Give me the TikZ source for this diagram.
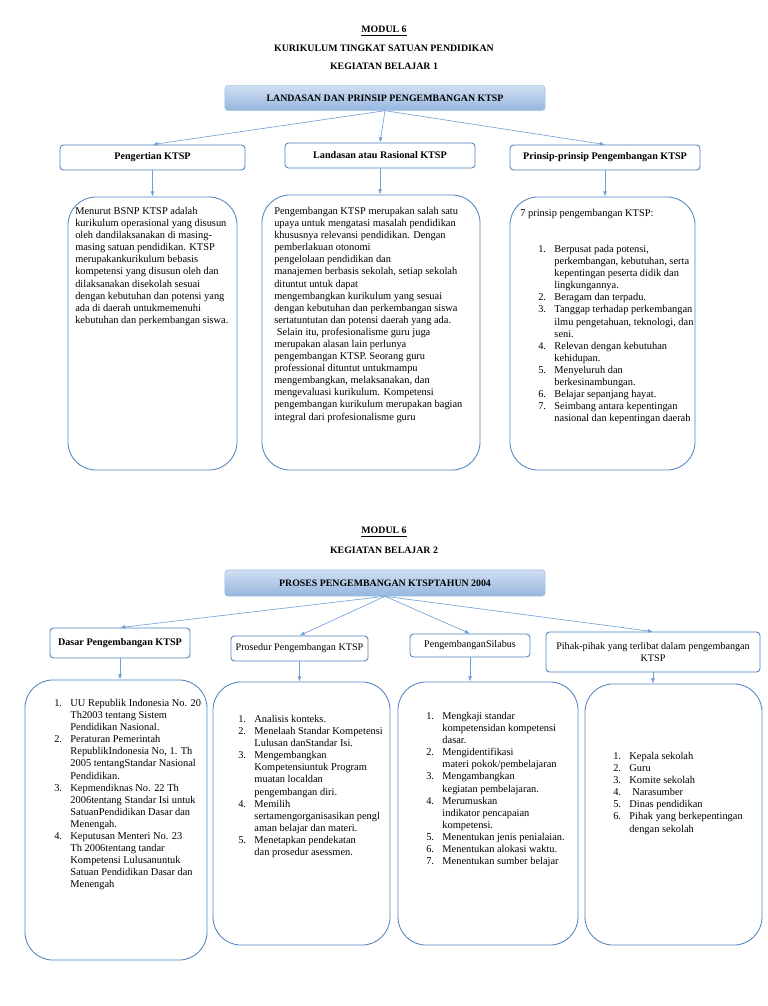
\documentclass[tikz,border=0pt]{standalone}
\usepackage{fontspec}
\setmainfont{Liberation Serif}
\usetikzlibrary{positioning,arrows.meta}
\definecolor{boxline}{RGB}{79,129,189}
\definecolor{linkblue}{RGB}{112,160,214}
\definecolor{hdrtop}{RGB}{208,223,242}
\definecolor{hdrbot}{RGB}{150,182,222}
\definecolor{hdrline}{RGB}{160,190,226}
\newcommand{\itemno}[1]{\makebox[11.5pt][l]{#1}}
\newcommand{\itemind}{\hspace*{11.5pt}}
\tikzset{
  hdrbox/.style={draw=hdrline,top color=hdrtop,bottom color=hdrbot,rounded corners=2pt,font=\fontsize{7}{8.6}\selectfont\bfseries,minimum width=8cm,minimum height=0.62cm},
  subbox/.style={draw=boxline,fill=white,rounded corners=2.5pt,align=center,font=\fontsize{7.2}{8.6}\selectfont,line width=0.6pt},
  subbold/.style={subbox,font=\fontsize{7.2}{8.6}\selectfont\bfseries},
  txtbox/.style={draw=boxline,rounded corners=0.7cm,line width=0.6pt},
  bodytxt/.style={anchor=north west,inner sep=0pt,align=left,font=\fontsize{7.4}{8.6}\selectfont},
  titletxt/.style={font=\fontsize{7}{8.4}\selectfont\bfseries,inner sep=1pt},
  link/.style={-{Latex[length=1.3mm,width=1mm]},draw=linkblue,line width=0.45pt},
}
\begin{document}
\begin{tikzpicture}[x=0.025cm,y=-0.025cm]
  \useasboundingbox (0,0) rectangle (768,1006);
  % kegiatan belajar 1
  \node[titletxt] (modA) at (384,31) {\underline{MODUL 6}};
  \node[titletxt] (kurA) at (384,48) {KURIKULUM TINGKAT SATUAN PENDIDIKAN};
  \node[titletxt] (kbA)  at (384,66) {KEGIATAN BELAJAR 1};
  \node[hdrbox] (hdrA) at (385,98) {LANDASAN DAN PRINSIP PENGEMBANGAN KTSP};
  \node[subbold,minimum width=4.625cm,minimum height=0.625cm] (peng) at (152.5,157.5) {Pengertian KTSP};
  \node[subbold,minimum width=4.75cm,minimum height=0.625cm]  (land) at (380,155.5)   {Landasan atau Rasional KTSP};
  \node[subbold,minimum width=4.75cm,minimum height=0.625cm]  (prin) at (605,157.5)   {Prinsip-prinsip Pengembangan KTSP};
  \draw[link] (hdrA.south) -- (peng.north);
  \draw[link] (hdrA.south) -- (land.north);
  \draw[link] (hdrA.south) -- (prin.north);
  \node[txtbox,minimum width=4.225cm,minimum height=6.825cm] (pengbox) at (152.5,333.5) {};
  \node[txtbox,minimum width=5.45cm,minimum height=6.875cm]  (landbox) at (371,332.5) {};
  \node[txtbox,minimum width=4.625cm,minimum height=6.825cm] (prinbox) at (602.5,333.5) {};
  \draw[link] (peng.south) -- (pengbox.north);
  \draw[link] (land.south) -- (land.south |- landbox.north);
  \draw[link] (prin.south) -- (prin.south |- prinbox.north);
  \node[bodytxt] (pengtxt) at (75,207) {Menurut BSNP KTSP adalah\\
    kurikulum operasional yang disusun\\
    oleh dandilaksanakan di masing-\\
    masing satuan pendidikan. KTSP\\
    merupakankurikulum bebasis\\
    kompetensi yang disusun oleh dan\\
    dilaksanakan disekolah sesuai\\
    dengan kebutuhan dan potensi yang\\
    ada di daerah untukmemenuhi\\
    kebutuhan dan perkembangan siswa.};
  \node[bodytxt] (landtxt) at (274,207) {Pengembangan KTSP merupakan salah satu\\
    upaya untuk mengatasi masalah pendidikan\\
    khususnya relevansi pendidikan. Dengan\\
    pemberlakuan otonomi\\
    pengelolaan pendidikan dan\\
    manajemen berbasis sekolah, setiap sekolah\\
    dituntut untuk dapat\\
    mengembangkan kurikulum yang sesuai\\
    dengan kebutuhan dan perkembangan siswa\\
    sertatuntutan dan potensi daerah yang ada.\\
    \ Selain itu, profesionalisme guru juga\\
    merupakan alasan lain perlunya\\
    pengembangan KTSP. Seorang guru\\
    professional dituntut untukmampu\\
    mengembangkan, melaksanakan, dan\\
    mengevaluasi kurikulum. Kompetensi\\
    pengembangan kurikulum merupakan bagian\\
    integral dari profesionalisme guru};
  \node[bodytxt] (printxt) at (520,209) {7 prinsip pengembangan KTSP:};
  \node[bodytxt] (prinlist) at (538,245) {\itemno{1.}Berpusat pada potensi,\\
    \itemind perkembangan, kebutuhan, serta\\
    \itemind kepentingan peserta didik dan\\
    \itemind lingkungannya.\\
    \itemno{2.}Beragam dan terpadu.\\
    \itemno{3.}Tanggap terhadap perkembangan\\
    \itemind ilmu pengetahuan, teknologi, dan\\
    \itemind seni.\\
    \itemno{4.}Relevan dengan kebutuhan\\
    \itemind kehidupan.\\
    \itemno{5.}Menyeluruh dan\\
    \itemind berkesinambungan.\\
    \itemno{6.}Belajar sepanjang hayat.\\
    \itemno{7.}Seimbang antara kepentingan\\
    \itemind nasional dan kepentingan daerah};
  % kegiatan belajar 2
  \node[titletxt] (modB) at (384,532) {\underline{MODUL 6}};
  \node[titletxt] (kbB)  at (384,550) {KEGIATAN BELAJAR 2};
  \node[hdrbox,minimum height=0.65cm] (hdrB) at (385,583) {PROSES PENGEMBANGAN KTSPTAHUN 2004};
  \node[subbold,minimum width=3.5cm,minimum height=0.75cm]  (dasar)  at (120,643)   {Dasar Pengembangan KTSP};
  \node[subbox,minimum width=3.325cm,minimum height=0.625cm] (pros)  at (299.5,648.5) {Prosedur Pengembangan KTSP};
  \node[subbox,minimum width=3cm,minimum height=0.575cm]     (sil)   at (470,645.5) {PengembanganSilabus};
  \node[subbox,minimum width=5.35cm,minimum height=1cm]      (pihak) at (653,652)   {Pihak-pihak yang terlibat dalam pengembangan\\KTSP};
  \draw[link] (hdrB.south) -- (dasar.north);
  \draw[link] (hdrB.south) -- (pros.north);
  \draw[link] (hdrB.south) -- (sil.north);
  \draw[link] (hdrB.south) -- (pihak.north);
  \node[txtbox,minimum width=4.55cm,minimum height=7cm]      (dasarbox) at (116,820) {};
  \node[txtbox,minimum width=4.425cm,minimum height=6.575cm] (prosbox)  at (301.5,813.5) {};
  \node[txtbox,minimum width=4.5cm,minimum height=6.575cm]   (silbox)   at (488,813.5) {};
  \node[txtbox,minimum width=4.425cm,minimum height=6.525cm] (pihakbox) at (673.5,814.5) {};
  \draw[link] (dasar.south) -- (dasar.south |- dasarbox.north);
  \draw[link] (pros.south) -- (pros.south |- prosbox.north);
  \draw[link] (sil.south) -- (sil.south |- silbox.north);
  \draw[link] (pihak.south) -- (pihak.south |- pihakbox.north);
  \node[bodytxt] (dasarlist) at (54,699) {\itemno{1.}UU Republik Indonesia No. 20\\
    \itemind Th2003 tentang Sistem\\
    \itemind Pendidikan Nasional.\\
    \itemno{2.}Peraturan Pemerintah\\
    \itemind RepublikIndonesia No, 1. Th\\
    \itemind 2005 tentangStandar Nasional\\
    \itemind Pendidikan.\\
    \itemno{3.}Kepmendiknas No. 22 Th\\
    \itemind 2006tentang Standar Isi untuk\\
    \itemind SatuanPendidikan Dasar dan\\
    \itemind Menengah.\\
    \itemno{4.}Keputusan Menteri No. 23\\
    \itemind Th 2006tentang tandar\\
    \itemind Kompetensi Lulusanuntuk\\
    \itemind Satuan Pendidikan Dasar dan\\
    \itemind Menengah};
  \node[bodytxt] (proslist) at (238,715) {\itemno{1.}Analisis konteks.\\
    \itemno{2.}Menelaah Standar Kompetensi\\
    \itemind Lulusan danStandar Isi.\\
    \itemno{3.}Mengembangkan\\
    \itemind Kompetensiuntuk Program\\
    \itemind muatan localdan\\
    \itemind pengembangan diri.\\
    \itemno{4.}Memilih\\
    \itemind sertamengorganisasikan pengl\\
    \itemind aman belajar dan materi.\\
    \itemno{5.}Menetapkan pendekatan\\
    \itemind dan prosedur asessmen.};
  \node[bodytxt] (sillist) at (426,712) {\itemno{1.}Mengkaji standar\\
    \itemind kompetensidan kompetensi\\
    \itemind dasar.\\
    \itemno{2.}Mengidentifikasi\\
    \itemind materi pokok/pembelajaran\\
    \itemno{3.}Mengambangkan\\
    \itemind kegiatan pembelajaran.\\
    \itemno{4.}Merumuskan\\
    \itemind indikator pencapaian\\
    \itemind kompetensi.\\
    \itemno{5.}Menentukan jenis penialaian.\\
    \itemno{6.}Menentukan alokasi waktu.\\
    \itemno{7.}Menentukan sumber belajar};
  \node[bodytxt] (pihaklist) at (613,752) {\itemno{1.}Kepala sekolah\\
    \itemno{2.}Guru\\
    \itemno{3.}Komite sekolah\\
    \itemno{4.}\hspace{2pt}Narasumber\\
    \itemno{5.}Dinas pendidikan\\
    \itemno{6.}Pihak yang berkepentingan\\
    \itemind dengan sekolah};
\end{tikzpicture}
\end{document}
